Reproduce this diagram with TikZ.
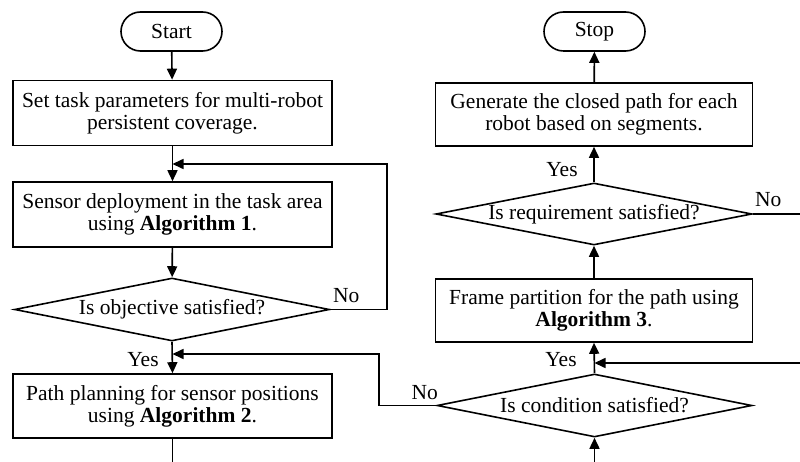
\documentclass[tikz,border=0pt]{standalone}
\usepackage{fontspec}
\setmainfont{Liberation Serif}
\usetikzlibrary{shapes.geometric,arrows.meta}
\tikzset{
  flow/.style={line width=1.6pt},
  arr/.style={flow,-{Triangle[length=11pt,width=10pt]}},
  term/.style={draw,flow,rounded corners=19.5pt,minimum width=101pt,minimum height=39pt,inner sep=0pt},
  proc/.style={draw,flow,minimum width=319pt,minimum height=65pt,inner sep=0pt,align=center},
  cond/.style={draw,flow,diamond,aspect=5,minimum width=315pt,minimum height=63pt,inner sep=0pt},
  lbl/.style={inner sep=0pt}
}
\begin{document}
\begin{tikzpicture}[x=1pt,y=-1pt,font=\fontsize{21.5}{22}\selectfont]
\useasboundingbox (0,0) rectangle (800,462);

% left column
\node[term] (start) at (171.5,31.5) {Start};
\node[proc] (p1) at (172.5,113) {Set task parameters for multi-robot\\persistent coverage.};
\node[proc] (p2) at (172.5,214.5) {Sensor deployment in the task area\\using \textbf{Algorithm 1}.};
\node[cond] (d1) at (172,309.5) {Is objective satisfied?};
\node[proc,minimum height=64pt] (p3) at (172.5,406) {Path planning for sensor positions\\using \textbf{Algorithm 2}.};

% right column
\node[term] (stop) at (594.5,31.5) {Stop};
\node[proc,minimum width=317pt,minimum height=63pt] (p4) at (594,114.5) {Generate the closed path for each\\robot based on segments.};
\node[cond,minimum width=316pt,minimum height=62pt] (d2) at (594,214) {Is requirement satisfied?};
\node[proc,minimum width=317pt,minimum height=63pt] (p5) at (594,310.5) {Frame partition for the path using\\\textbf{Algorithm 3}.};
\node[cond] (d3) at (594.5,405.5) {Is condition satisfied?};

% branch labels
\node[lbl,anchor=south west] (n1) at (333,303) {No};
\node[lbl] (y1) at (143,360) {Yes};
\node[lbl] (y2) at (562,170) {Yes};
\node[lbl,anchor=south west] (n2) at (755,207) {No};
\node[lbl] (y3) at (561,360) {Yes};
\node[lbl,anchor=south east] (n3) at (438,400) {No};

% junctions and off-page ends
\coordinate (j1) at (172.5,164);
\coordinate (c1) at (387,309.5);
\coordinate (c2) at (387,164);
\coordinate (j2) at (172.5,354);
\coordinate (c3) at (379,405.5);
\coordinate (c4) at (379,354);
\coordinate (e1) at (172.5,462);
\coordinate (e2) at (594.5,462);
\coordinate (e3) at (800,214);
\coordinate (e4) at (800,363);
\coordinate (j3) at (594.5,363);

% left column connectors
\draw[arr] (start) -- (p1);
\draw[arr] (p1) -- (p2);
\draw[arr] (d1.east) -- (c1) -- (c2) -- (j1);
\draw[arr] (p2) -- (d1);
\draw[arr] (d1.south) -- (p3.north);
\draw[arr] (d3.west) -- (c3) -- (c4) -- (j2);
\draw[flow] (p3.south) -- (e1);

% right column connectors
\draw[arr] (e2) -- (d3.south);
\draw[arr] (d3.north) -- (p5.south);
\draw[arr] (e4) -- (j3);
\draw[arr] (p5) -- (d2);
\draw[arr] (d2) -- (p4);
\draw[arr] (p4) -- (stop);
\draw[flow] (d2.east) -- (e3);
\end{tikzpicture}
\end{document}
